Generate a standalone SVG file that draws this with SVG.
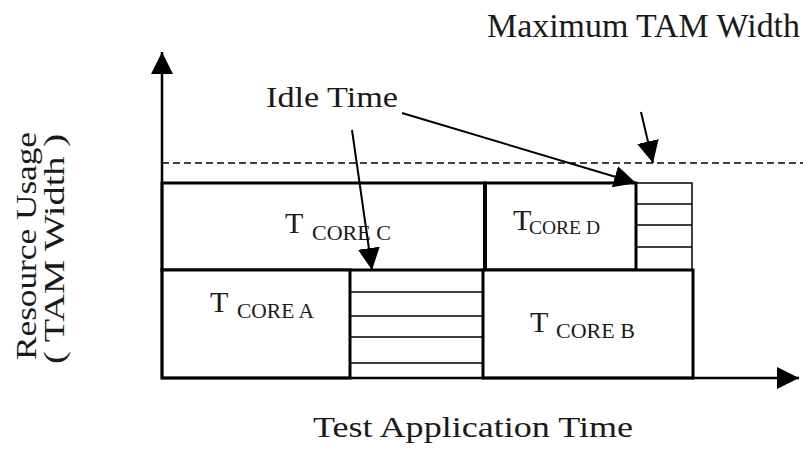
<svg xmlns="http://www.w3.org/2000/svg" width="803" height="452" viewBox="0 0 803 452">
  <style>
    text { font-family: "Liberation Serif", "Times New Roman", serif; fill: #1a1a1a; }
    .t { font-size: 30px; }
    .sub { font-size: 22px; }
    .box { fill: #ffffff; stroke: #000000; stroke-width: 3; }
    .thin { fill: #ffffff; stroke: #000000; stroke-width: 1.5; }
    .hatch { stroke: #000000; stroke-width: 1.5; }
    .axis { stroke: #000000; stroke-width: 2.5; fill: none; }
    .arrow { stroke: #000000; stroke-width: 2; fill: none; }
  </style>
  <defs>
    <marker id="head" markerUnits="userSpaceOnUse" markerWidth="24" markerHeight="24" refX="22" refY="11" orient="auto">
      <path d="M0,0 L22,11 L0,22 z" fill="#000000"/>
    </marker>
  </defs>
  <rect width="803" height="452" fill="#ffffff"/>

  <!-- idle region above core D, up to the TAM limit -->
  <g id="idle-top">
    <rect class="thin" x="636" y="183" width="56" height="87"/>
    <line class="hatch" x1="636" y1="204" x2="692" y2="204"/>
    <line class="hatch" x1="636" y1="225" x2="692" y2="225"/>
    <line class="hatch" x1="636" y1="247" x2="692" y2="247"/>
  </g>

  <!-- idle region between core A and core B -->
  <g id="idle-mid">
    <rect class="thin" x="350" y="270" width="133" height="108"/>
    <line class="hatch" x1="350" y1="292" x2="483" y2="292"/>
    <line class="hatch" x1="350" y1="316" x2="483" y2="316"/>
    <line class="hatch" x1="350" y1="337" x2="483" y2="337"/>
    <line class="hatch" x1="350" y1="363" x2="483" y2="363"/>
  </g>

  <g id="core-c">
    <rect class="box" x="162" y="183" width="323" height="87"/>
    <text class="t" x="285" y="233">T<tspan class="sub" x="312" y="240">CORE C</tspan></text>
  </g>

  <g id="core-d">
    <rect class="box" x="485" y="183" width="151" height="87"/>
    <line x1="485" y1="183" x2="485" y2="270" stroke="#000" stroke-width="4"/>
    <text class="t" x="513" y="230">T<tspan x="529" y="234" style="font-size:19.5px">CORE D</tspan></text>
  </g>

  <g id="core-a">
    <rect class="box" x="162" y="270" width="188" height="108"/>
    <text class="t" x="210" y="312">T<tspan x="237" y="318" style="font-size:21.5px">CORE A</tspan></text>
  </g>

  <g id="core-b">
    <rect class="box" x="483" y="270" width="210" height="108"/>
    <text class="t" x="530" y="332">T<tspan class="sub" x="556" y="338">CORE B</tspan></text>
  </g>

  <!-- maximum TAM width limit -->
  <g id="tam-limit">
    <line x1="162" y1="163" x2="803" y2="163" stroke="#000" stroke-width="1.6" stroke-dasharray="7 4"/>
  </g>

  <g id="axes">
    <line class="axis" x1="162" y1="379" x2="162" y2="52" marker-end="url(#head)"/>
    <line class="axis" x1="161" y1="378" x2="799" y2="378" marker-end="url(#head)"/>
    <text x="313" y="437" style="font-size:30px" textLength="320" lengthAdjust="spacingAndGlyphs">Test  Application Time</text>
    <text transform="translate(36,360) rotate(-90)" style="font-size:29px" textLength="228" lengthAdjust="spacingAndGlyphs">Resource Usage</text>
    <text transform="translate(64,364) rotate(-90)" style="font-size:29px" textLength="230" lengthAdjust="spacingAndGlyphs">( TAM Width )</text>
  </g>

  <g id="annotations">
    <text x="487" y="37" style="font-size:34px" textLength="313" lengthAdjust="spacingAndGlyphs">Maximum TAM Width</text>
    <text x="266" y="107" style="font-size:30px" textLength="132" lengthAdjust="spacingAndGlyphs">Idle Time</text>
  </g>

  <g id="connectors">
    <line class="arrow" x1="641" y1="112" x2="653" y2="163" marker-end="url(#head)"/>
    <line class="arrow" x1="402" y1="113" x2="636" y2="183" marker-end="url(#head)"/>
    <line class="arrow" x1="352" y1="130" x2="372" y2="270" marker-end="url(#head)"/>
  </g>
</svg>
